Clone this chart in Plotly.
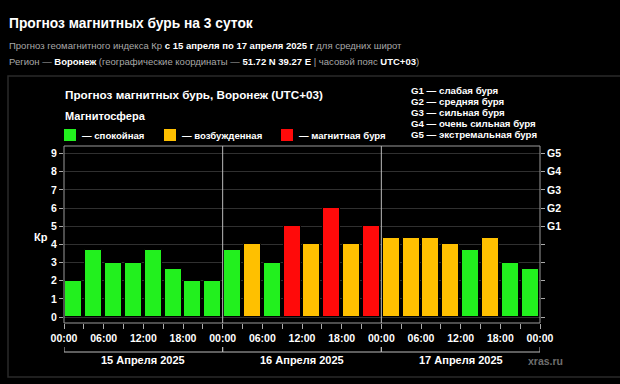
import plotly.graph_objects as go

# ---- data ----
kp_values = [2, 3.67, 3, 3, 3.67, 2.67, 2, 2,
             3.67, 4, 3, 5, 4, 6, 4, 5,
             4.33, 4.33, 4.33, 4, 3.67, 4.33, 3, 2.67]
hour_labels = ["00:00", "06:00", "12:00", "18:00"]
day_labels = ["15 Апреля 2025", "16 Апреля 2025", "17 Апреля 2025"]
g_labels = ["G1", "G2", "G3", "G4", "G5"]
g_levels = [5, 6, 7, 8, 9]
g_legend = ["G1 — слабая буря", "G2 — средняя буря", "G3 — сильная буря",
            "G4 — очень сильная буря", "G5 — экстремальная буря"]
state_labels = ["— спокойная", "— возбужденная", "— магнитная буря"]
state_colors = ["#22f01e", "#ffc000", "#ff0a0a"]

SLOTS_PER_DAY = 8
n_days = len(day_labels)
n_slots = SLOTS_PER_DAY * n_days

def color_for(v):
    if v >= 5:
        return state_colors[2]
    if v >= 4:
        return state_colors[1]
    return state_colors[0]

x_centers = [i + 0.5 for i in range(n_slots)]
colors = [color_for(v) for v in kp_values]

# ---- geometry helpers (pixel -> paper) ----
W, H = 620, 384
ML, MR, MT, MB = 64, 80, 146, 61
PW, PH = W - ML - MR, H - MT - MB

def px(x):
    return (x - ML) / PW

def py(y):
    return (H - MB - y) / PH

FONT = "Liberation Sans, Arial, sans-serif"

fig = go.Figure()
fig.add_trace(go.Bar(
    x=x_centers, y=kp_values, width=0.86,
    marker=dict(color=colors, line=dict(color="#000000", width=1)),
    hoverinfo="skip", showlegend=False,
))
# invisible trace to enable right axis
fig.add_trace(go.Scatter(x=[0], y=[0], yaxis="y2", mode="markers",
                         marker=dict(opacity=0), showlegend=False, hoverinfo="skip"))

tickvals = list(range(n_slots + 1))
ticktext = []
for i in tickvals:
    if i % 2 == 0:
        ticktext.append("<b>" + hour_labels[(i // 2) % 4] + "</b>")
    else:
        ticktext.append("")

ylevels = list(range(10))
y_ticktext = ["<b>%d</b>" % v for v in ylevels]
y2_ticktext = ["" if v not in g_levels else "<b>" + g_labels[g_levels.index(v)] + "</b>"
               for v in ylevels]

yr = [-0.33, 9.42]
fig.update_layout(
    width=W, height=H,
    margin=dict(l=ML, r=MR, t=MT, b=MB),
    paper_bgcolor="#000000", plot_bgcolor="#000000",
    font=dict(family=FONT, color="#ffffff"),
    bargap=0,
    xaxis=dict(range=[0, n_slots], tickvals=tickvals, ticktext=ticktext,
               ticks="outside", ticklen=5, tickcolor="#aaaaaa", tickwidth=1,
               showgrid=False, zeroline=False, showline=False,
               tickfont=dict(size=10.5, color="#ffffff")),
    yaxis=dict(range=yr, tickvals=ylevels, ticktext=y_ticktext, ticks="outside", ticklen=4,
               tickcolor="#aaaaaa", gridcolor="#303030", gridwidth=1,
               zeroline=False, showline=False,
               tickfont=dict(size=10.5, color="#ffffff")),
    yaxis2=dict(range=yr, overlaying="y", side="right",
                tickvals=ylevels, ticktext=y2_ticktext,
                ticks="outside", ticklen=4, tickcolor="#aaaaaa",
                showgrid=False, zeroline=False, showline=False,
                tickfont=dict(size=10.5, color="#ffffff")),
)

shapes = []
# outer frame
shapes.append(dict(type="rect", xref="paper", yref="paper",
                   x0=px(8), x1=px(640), y0=py(377), y1=py(76),
                   line=dict(color="#2a2a2a", width=1.5), layer="below"))
# plot border
shapes.append(dict(type="rect", xref="paper", yref="paper", x0=0, x1=1, y0=0, y1=1,
                   line=dict(color="#9a9a9a", width=1)))
# day dividers and brackets
for d in range(n_days):
    x0 = d * SLOTS_PER_DAY
    x1 = (d + 1) * SLOTS_PER_DAY
    if d > 0:
        shapes.append(dict(type="line", xref="x", yref="paper", x0=x0, x1=x0, y0=0, y1=1,
                           line=dict(color="#bbbbbb", width=1)))
    shapes.append(dict(type="line", xref="x", yref="paper", x0=x0, x1=x1,
                       y0=py(352), y1=py(352), line=dict(color="#bbbbbb", width=1)))
    for xe in (x0, x1):
        shapes.append(dict(type="line", xref="x", yref="paper", x0=xe, x1=xe,
                           y0=py(352), y1=py(347), line=dict(color="#bbbbbb", width=1)))

annotations = []
for d in range(n_days):
    annotations.append(dict(x=(d + 0.5) * SLOTS_PER_DAY, y=py(360), xref="x", yref="paper",
                            text="<b>" + day_labels[d] + "</b>", showarrow=False,
                            xanchor="center", yanchor="middle",
                            font=dict(size=11, color="#ffffff")))

annotations.append(dict(x=px(545), y=py(361), xref="paper", yref="paper", text="<b>xras.ru</b>",
                        showarrow=False, xanchor="center", yanchor="middle",
                        font=dict(size=10.5, color="#6e6e6e")))

# header texts
annotations.append(dict(x=px(7), y=py(23), xref="paper", yref="paper",
                        text="<b>Прогноз магнитных бурь на 3 суток</b>", showarrow=False,
                        xanchor="left", yanchor="middle", font=dict(size=13.8, color="#ffffff")))
g = "#a8a8a8"
line1 = (f"<span style='color:{g}'>Прогноз геомагнитного индекса Кр </span>"
         "<b>с 15 апреля по 17 апреля 2025 г</b>"
         f"<span style='color:{g}'> для средних широт</span>")
line2 = (f"<span style='color:{g}'>Регион — </span><b>Воронеж</b>"
         f"<span style='color:{g}'> (географические координаты — </span>"
         "<b>51.72 N 39.27 E</b>"
         f"<span style='color:{g}'> | часовой пояс </span><b>UTC+03</b>"
         f"<span style='color:{g}'>)</span>")
annotations.append(dict(x=px(7), y=py(45), xref="paper", yref="paper", text=line1,
                        showarrow=False, xanchor="left", yanchor="middle",
                        font=dict(size=9.5, color="#ffffff")))
annotations.append(dict(x=px(7), y=py(62), xref="paper", yref="paper", text=line2,
                        showarrow=False, xanchor="left", yanchor="middle",
                        font=dict(size=9.5, color="#ffffff")))

annotations.append(dict(x=px(63), y=py(94), xref="paper", yref="paper",
                        text="<b>Прогноз магнитных бурь, Воронеж (UTC+03)</b>", showarrow=False,
                        xanchor="left", yanchor="middle", font=dict(size=11.7, color="#ffffff")))
annotations.append(dict(x=px(63), y=py(116), xref="paper", yref="paper",
                        text="<b>Магнитосфера</b>", showarrow=False,
                        xanchor="left", yanchor="middle", font=dict(size=11, color="#ffffff")))

# state legend
sq_x = [64, 164, 281]
for i in range(3):
    shapes.append(dict(type="rect", xref="paper", yref="paper",
                       x0=px(sq_x[i]), x1=px(sq_x[i] + 12), y0=py(141), y1=py(129),
                       fillcolor=state_colors[i], line=dict(width=0)))
    annotations.append(dict(x=px(sq_x[i] + 16), y=py(135), xref="paper", yref="paper",
                            text="<b>" + state_labels[i] + "</b>", showarrow=False,
                            xanchor="left", yanchor="middle",
                            font=dict(size=9.6, color="#ffffff")))

# G legend
for i, t in enumerate(g_legend):
    annotations.append(dict(x=px(409), y=py(90 + i * 11.2), xref="paper", yref="paper",
                            text="<b>" + t + "</b>", showarrow=False,
                            xanchor="left", yanchor="middle",
                            font=dict(size=9.7, color="#ffffff")))

# Kp axis label
annotations.append(dict(x=px(41), y=py(237), xref="paper", yref="paper",
                        text="<b>Кр</b>", showarrow=False, xanchor="center", yanchor="middle",
                        font=dict(size=11, color="#ffffff")))

fig.update_layout(shapes=shapes, annotations=annotations)
fig.write_html("out.html", config={"displayModeBar": False},
               post_script="document.body.style.margin='0';document.body.style.background='#000';")
